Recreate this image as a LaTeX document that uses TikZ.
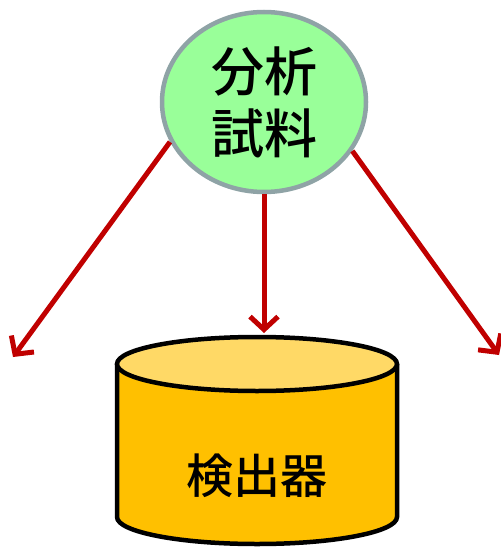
\documentclass[tikz,border=0pt]{standalone}
\usepackage{fontspec}
\newfontfamily\cjk{Noto Sans CJK JP}[UprightFont={* Medium}]
\usetikzlibrary{shapes.geometric,arrows.meta}
\definecolor{arrowred}{HTML}{C00000}
\definecolor{samplegreen}{HTML}{99FF99}
\definecolor{samplegray}{HTML}{8FA3A6}
\definecolor{cylbody}{HTML}{FFC000}
\definecolor{cyltop}{HTML}{FFD966}
\tikzset{
  flowarrow/.style={draw=arrowred, line width=5pt, -{Straight Barb[length=13pt,width=28pt,line width=5pt]}},
  samplenode/.style={ellipse, draw=samplegray, fill=samplegreen, line width=4.5pt, minimum width=204pt, minimum height=180pt, inner sep=0pt, align=center, font=\cjk\fontsize{53}{62}\selectfont},
  cylline/.style={draw=black, line width=4.5pt},
}
\begin{document}
\begin{tikzpicture}[x=1pt,y=-1pt]
\useasboundingbox (0,0) rectangle (500,548);
% cylinder
\fill[cylbody] (117,364) -- (117,517) arc[start angle=180, end angle=0, x radius=140, y radius=27] -- (397,364) -- cycle;
\draw[cylline] (117,364) -- (117,517) arc[start angle=180, end angle=0, x radius=140, y radius=27] -- (397,364);
\draw[cylline, fill=cyltop] (257,364) ellipse[x radius=140, y radius=27];
\node[font=\cjk\fontsize{47}{50}\selectfont, inner sep=0pt] (det) at (257,476) {検出器};
% sample
\node[samplenode] (s) at (264,102) {分析\\試料};
\coordinate (lend) at (13,357);
\coordinate (mend) at (264,333);
\coordinate (rend) at (499,355);
\draw[flowarrow] (s.203) -- (lend);
\draw[flowarrow] (s.south) -- (mend);
\draw[flowarrow] (s.331) -- (rend);
\end{tikzpicture}
\end{document}
